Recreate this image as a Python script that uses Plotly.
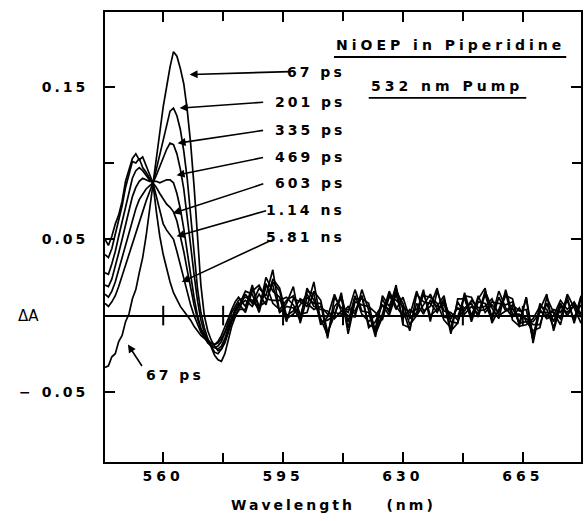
import plotly.graph_objects as go

# wavelength grid (nm): 1 nm steps over the band region, 2 nm steps in the flat tail
wavelength = [543, 544, 545, 546, 547, 548, 549, 550, 551, 552,
              553, 554, 555, 556, 557, 558, 559, 560, 561, 562,
              563, 564, 565, 566, 567, 568, 569, 570, 571, 572,
              573, 574, 575, 576, 577, 578, 579, 580, 581, 582,
              584, 586, 588, 590, 592, 594, 596, 598, 600, 602,
              604, 606, 608, 610, 612, 614, 616, 618, 620, 622,
              624, 626, 628, 630, 632, 634, 636, 638, 640, 642,
              644, 646, 648, 650, 652, 654, 656, 658, 660, 662,
              664, 666, 668, 670, 672, 674, 676, 678, 680, 682]

# delta A in units of 1e-3
dA_67ps = [-34, -33, -27, -25, -17, -13, -4, 1, 11, 17,
           28, 38, 52, 68, 87, 103, 120, 137, 150, 163,
           173, 170, 162, 152, 135, 113, 85, 52, 20, 0,
           -10, -16, -20, -23, -22, -17, -10, -4, 0, 3,
           14, 8, 18, 13, 30, 2, 8, 19, -5, 12,
           8, 8, -15, 12, 5, 2, 17, 3, 2, -14,
           13, 6, 18, 4, -10, 14, 9, 8, 2, 11,
           -4, -5, 13, 12, 3, 4, 9, 8, 7, 9,
           -5, 12, -18, 4, -2, 0, 10, 4, 9, 1]
dA_201ps = [8, 6, 9, 13, 19, 26, 33, 40, 47, 55,
            62, 68, 75, 81, 87, 96, 106, 116, 126, 134,
            136, 131, 122, 108, 90, 67, 42, 18, 2, -8,
            -15, -21, -26, -29, -30, -25, -16, -7, -1, 4,
            4, 20, 4, 25, 16, 12, -4, 11, 9, 6,
            22, -4, -3, 0, 15, -12, 9, 7, 6, 2,
            -3, 14, 4, 12, -2, 2, 17, -4, 16, 3,
            2, -3, 5, 8, -1, 14, -1, 16, 5, -1,
            5, -4, -10, -8, 12, 2, -6, 12, -5, 11]
dA_335ps = [14, 12, 16, 22, 30, 38, 46, 55, 63, 70,
            76, 80, 83, 85, 87, 92, 98, 104, 109, 113,
            112, 106, 96, 83, 66, 46, 27, 10, -3, -11,
            -17, -20, -24, -25, -22, -18, -11, -3, 2, 6,
            10, 6, 14, 7, 24, 18, 0, 3, 11, 8,
            4, 6, 1, 2, 1, 6, 1, 13, -8, -4,
            7, 0, 14, -2, 4, 0, 7, 14, 4, 9,
            -12, 11, 11, -2, 13, 2, 7, 2, 13, 11,
            -7, -6, -2, 6, 4, -8, 8, 0, 7, -1]
dA_469ps = [20, 19, 24, 32, 41, 50, 60, 70, 78, 84,
            88, 90, 89, 88, 88, 88, 87, 88, 89, 89,
            87, 80, 70, 57, 42, 26, 12, 0, -8, -13,
            -16, -19, -21, -22, -20, -15, -8, -2, 4, 8,
            2, 16, 20, 11, 10, 10, 12, 7, -1, 16,
            14, -6, -1, 14, 3, 0, -1, 17, 4, -10,
            1, 16, 6, 0, 0, 16, 3, 6, 18, -1,
            -2, 5, 3, 10, 5, 6, 11, 0, 3, 7,
            3, 4, -16, 8, 0, 4, 2, 10, -3, 13]
dA_603ps = [28, 27, 34, 42, 52, 62, 72, 82, 90, 95,
            97, 95, 92, 89, 87, 84, 80, 76, 73, 71,
            68, 62, 53, 42, 30, 18, 7, -2, -9, -14,
            -18, -20, -21, -20, -17, -11, -4, 2, 6, 10,
            12, 10, 4, 21, 8, 4, 10, 13, 1, 2,
            16, 10, -11, 0, 13, -4, 13, 1, -4, 0,
            7, 4, 20, -6, -8, 8, 1, 10, 6, 13,
            -10, -5, 15, 0, 11, 18, -5, 4, 15, -3,
            -7, 12, -14, 4, 14, -10, 6, 2, 7, -1]
dA_1_14ns = [40, 38, 44, 53, 62, 72, 84, 93, 101, 100,
             103, 97, 94, 90, 87, 78, 68, 60, 56, 53,
             50, 42, 33, 24, 15, 7, 0, -6, -11, -14,
             -16, -18, -19, -17, -13, -8, -2, 4, 9, 12,
             6, 18, 6, 9, 22, 16, -2, 1, 7, 14,
             6, 4, 3, -2, 3, 4, 3, 13, -6, -8,
             11, 2, 16, 8, -6, 0, 15, 0, 4, 7,
             0, -1, 13, -4, 9, 8, -3, 12, 3, 5,
             -5, -4, -4, 2, 2, 2, -2, 14, 5, -5]
dA_5_81ns = [50, 46, 52, 60, 66, 75, 88, 96, 103, 106,
             102, 104, 98, 92, 87, 68, 52, 40, 30, 22,
             15, 10, 6, 3, 0, -3, -7, -10, -13, -15,
             -17, -18, -19, -18, -15, -11, -6, -1, 3, 6,
             16, 14, 2, 19, 20, 2, 6, 5, -3, 18,
             10, -2, -13, 6, 11, -8, 11, 11, 8, -12,
             -1, 12, 10, 6, 2, 4, 13, 12, 8, -3,
             -8, 9, 1, 6, 1, 16, 5, -2, 17, 1,
             1, -2, -6, -6, 8, -4, 8, 0, -1, 7]

delay_labels = ["67 ps", "201 ps", "335 ps", "469 ps", "603 ps", "1.14 ns", "5.81 ns"]
spectra = [dA_67ps, dA_201ps, dA_335ps, dA_469ps, dA_603ps, dA_1_14ns, dA_5_81ns]

x_major = [560, 595, 630, 665]
x_minor = [577.5, 612.5, 647.5]
y_major = [-0.05, 0.05, 0.15]
y_major_text = ["\u2212 0.05", "0.05", "0.15"]
y_minor = [0.0, 0.1]

FONT = "DejaVu Sans"


def spaced(s, px=3):
    return '<span style="letter-spacing:%dpx">%s</span>' % (px, s)


fig = go.Figure()

for name, vals in zip(delay_labels, spectra):
    fig.add_trace(go.Scatter(
        x=wavelength,
        y=[v / 1000 for v in vals],
        mode="lines",
        name=name,
        line=dict(color="black", width=1.7),
        showlegend=False,
    ))

# little tick marks sitting on the zero line
fig.add_trace(go.Scatter(
    x=x_major + x_minor,
    y=[0] * (len(x_major) + len(x_minor)),
    mode="markers",
    marker=dict(symbol="line-ns", size=14, line=dict(color="black", width=2)),
    hoverinfo="skip",
    showlegend=False,
))

fig.update_xaxes(
    range=[543, 682],
    showline=True, linecolor="black", linewidth=2, mirror="ticks",
    ticks="inside", ticklen=10, tickwidth=2, tickcolor="black",
    tickvals=x_major, ticktext=[spaced(str(v), 4) for v in x_major],
    minor=dict(tickvals=x_minor, ticks="inside", ticklen=9, tickwidth=2, tickcolor="black"),
    tickfont=dict(family=FONT, size=14, color="black", weight="bold"),
    ticklabelstandoff=0,
    showgrid=False, zeroline=False,
)
fig.update_yaxes(
    range=[-0.096, 0.199],
    showline=True, linecolor="black", linewidth=2, mirror="ticks",
    ticks="inside", ticklen=10, tickwidth=2, tickcolor="black",
    tickvals=y_major, ticktext=[spaced(t, 3) for t in y_major_text],
    minor=dict(tickvals=y_minor, ticks="inside", ticklen=9, tickwidth=2, tickcolor="black"),
    tickfont=dict(family=FONT, size=14, color="black", weight="bold"),
    ticklabelstandoff=12,
    showgrid=False,
    zeroline=True, zerolinecolor="black", zerolinewidth=1.5,
)

lab_font = dict(family=FONT, size=14, color="black", weight="bold")

# delay labels on the right of the peaks
label_y = [0.1597, 0.1400, 0.1216, 0.1039, 0.0869, 0.0692, 0.0515]
for txt, ly in zip(delay_labels, label_y):
    fig.add_annotation(x=0.508, xref="paper", y=ly, yref="y", text=spaced(txt, 3),
                       showarrow=False, xanchor="right", yanchor="middle", font=lab_font)

# arrows from labels to curves (head in data coords, tail in pixels)
arrows = [
    (567.7, 0.158, 102, -3),
    (564.8, 0.136, 85, -6),
    (564.2, 0.113, 87, -13),
    (563.9, 0.092, 88, -18),
    (562.8, 0.067, 92, -30),
    (563.9, 0.052, 91, -26),
    (565.4, 0.022, 90, -42),
    (549.7, -0.019, 15, 23),
]
for hx, hy, ax, ay in arrows:
    fig.add_annotation(x=hx, y=hy, xref="x", yref="y", ax=ax, ay=ay, text="",
                       showarrow=True, arrowhead=2, arrowsize=1, arrowwidth=1.6,
                       arrowcolor="black")

# lower 67 ps label for the bleach
fig.add_annotation(x=563.3, y=-0.039, xref="x", yref="y", text=spaced("67 ps", 3),
                   showarrow=False, xanchor="center", yanchor="middle", font=lab_font)

# title block
fig.add_annotation(x=0.725, y=0.927, xref="paper", yref="paper",
                   text=spaced("NiOEP in Piperidine", 4), showarrow=False,
                   xanchor="center", yanchor="middle", font=lab_font)
fig.add_annotation(x=0.719, y=0.835, xref="paper", yref="paper",
                   text=spaced("532 nm Pump", 4), showarrow=False,
                   xanchor="center", yanchor="middle", font=lab_font)
fig.add_shape(type="line", xref="paper", yref="paper", x0=0.481, x1=0.969, y0=0.9, y1=0.9,
              line=dict(color="black", width=1.8))
fig.add_shape(type="line", xref="paper", yref="paper", x0=0.554, x1=0.885, y0=0.809, y1=0.809,
              line=dict(color="black", width=1.8))

# axis titles
fig.add_annotation(x=-0.161, y=0, xref="paper", yref="y", text="\u0394A",
                   showarrow=False, xanchor="center", yanchor="middle",
                   font=dict(family=FONT, size=15, color="black"))
fig.add_annotation(x=0.481, y=-0.096, xref="paper", yref="paper",
                   text=spaced("Wavelength\u00a0\u00a0\u00a0\u00a0(nm)", 3),
                   showarrow=False, xanchor="center", yanchor="middle", font=lab_font)

fig.update_layout(
    width=587, height=521,
    margin=dict(l=105, r=4, t=12, b=59),
    paper_bgcolor="white", plot_bgcolor="white",
    showlegend=False,
)

fig.write_html("out.html", config={"displayModeBar": False},
               post_script="document.body.style.margin='0';")
